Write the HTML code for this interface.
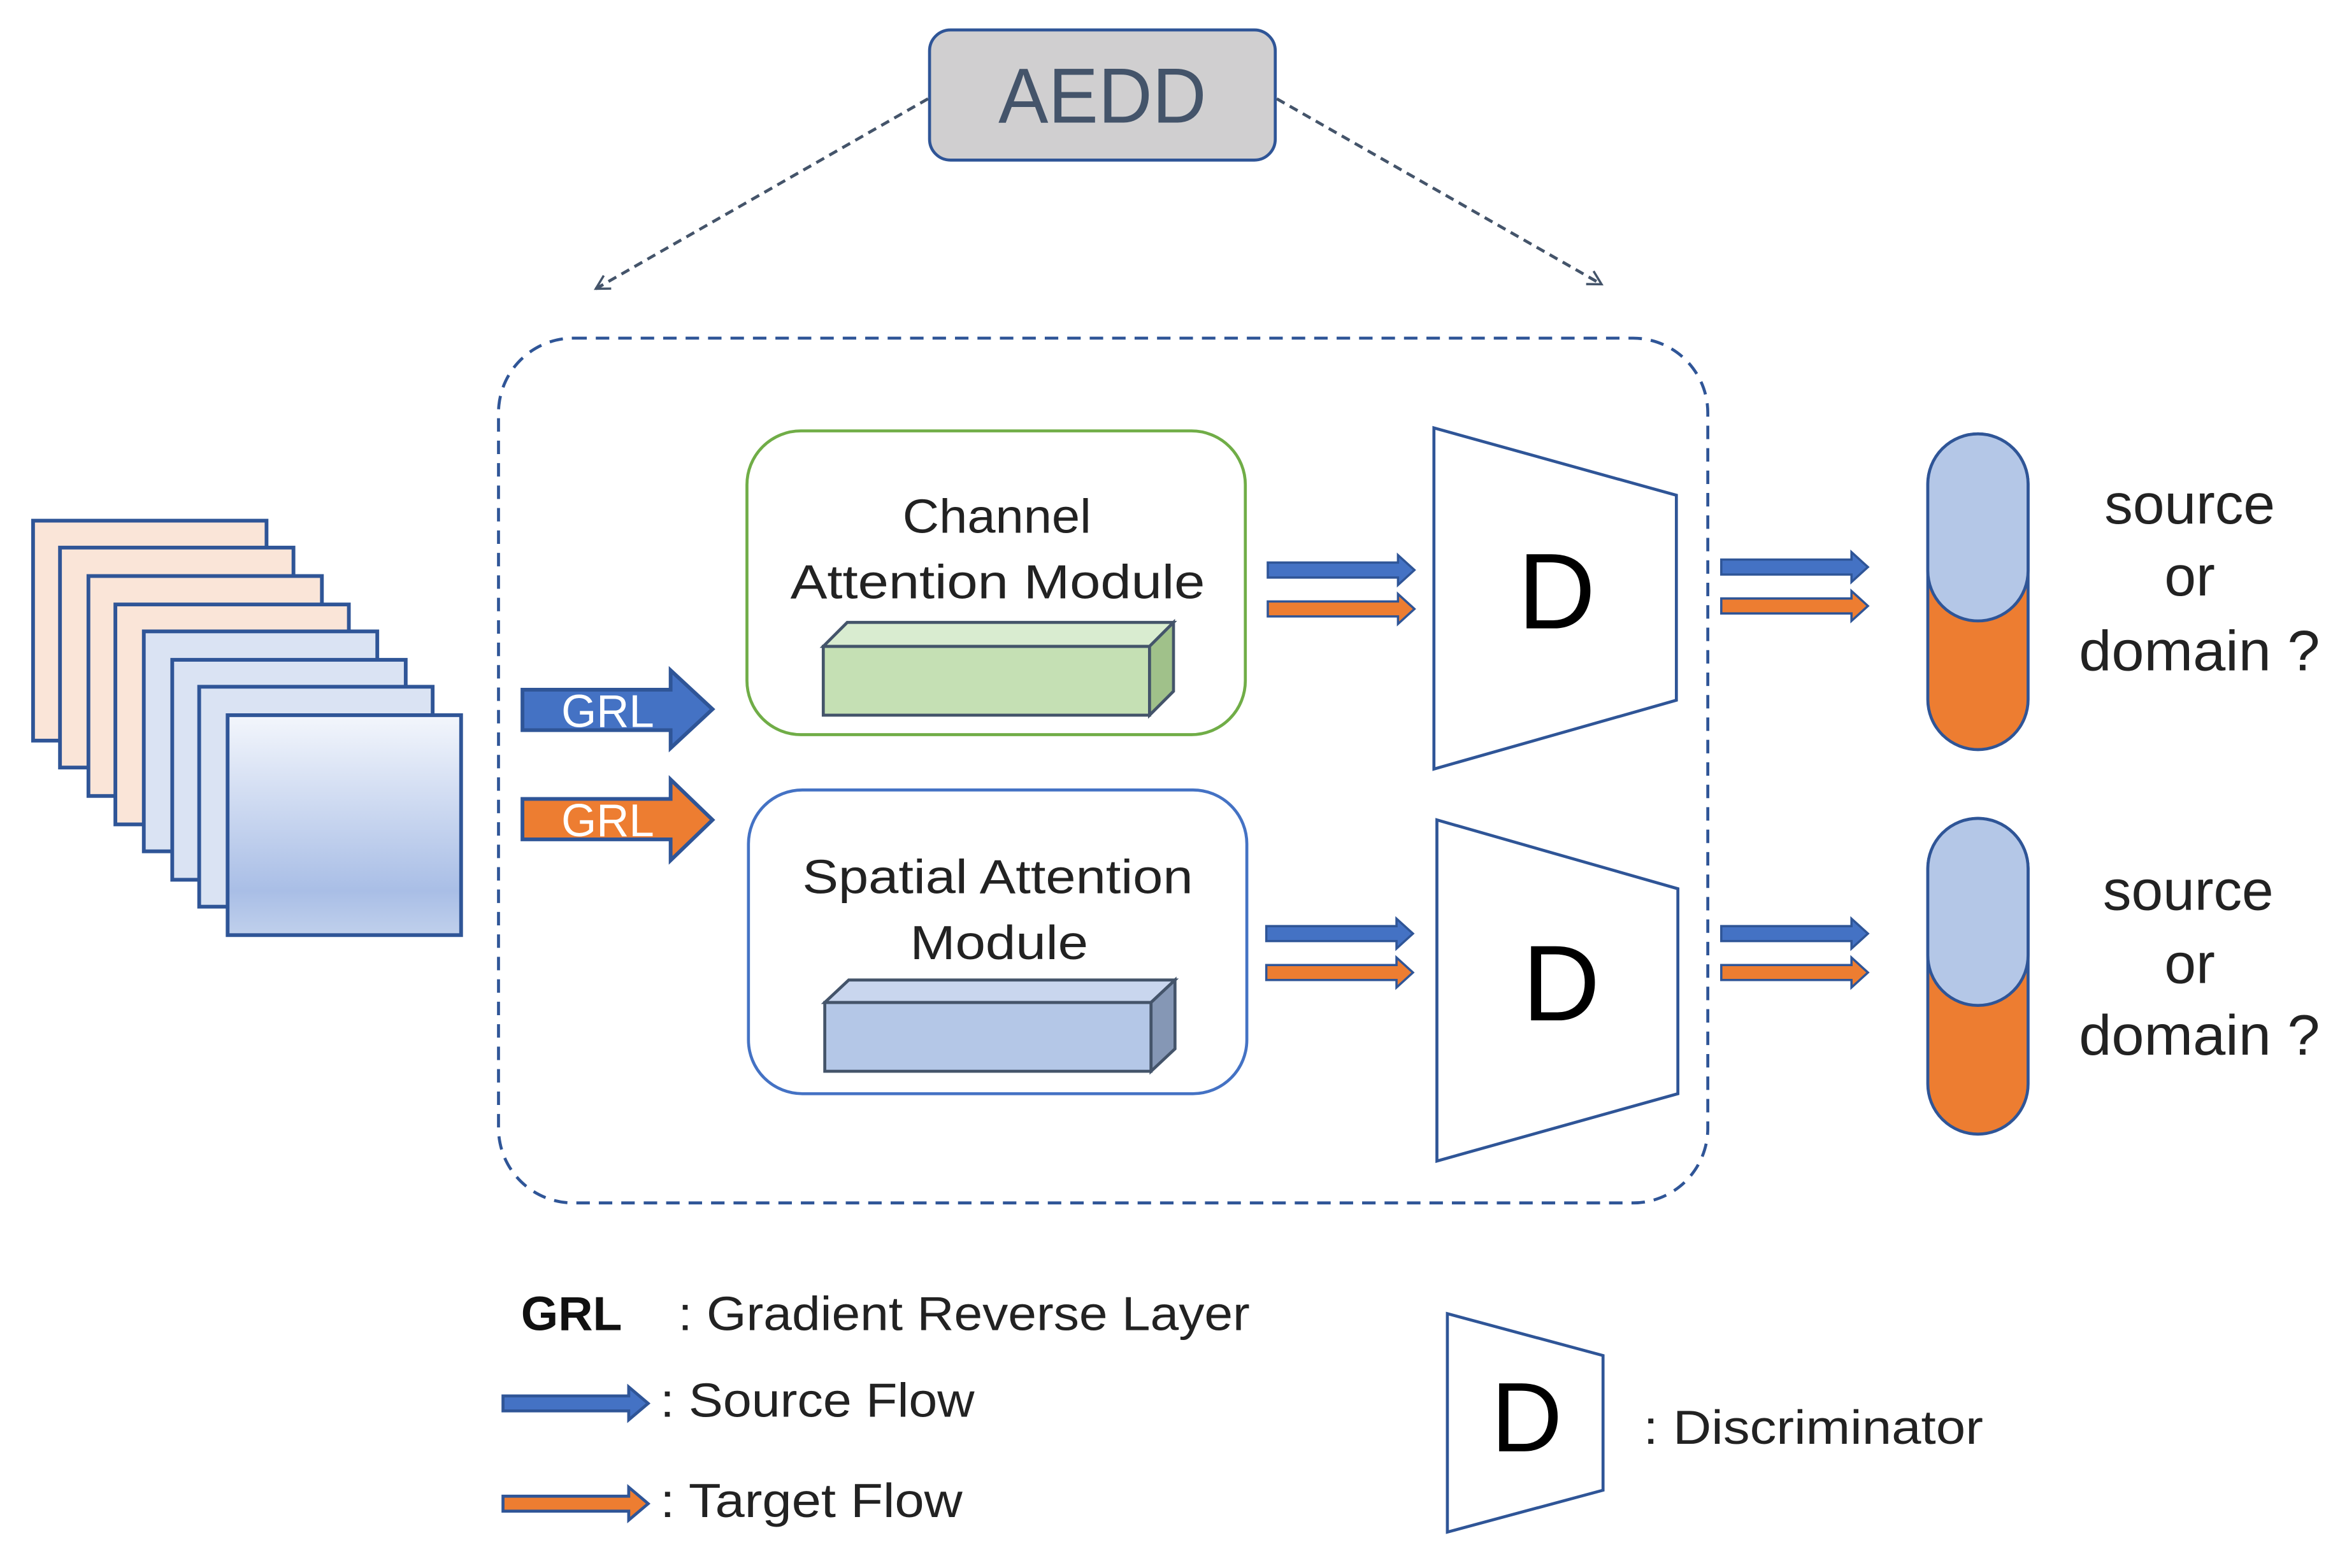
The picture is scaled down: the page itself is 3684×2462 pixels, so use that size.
<!DOCTYPE html>
<html><head><meta charset="utf-8"><style>html,body{margin:0;padding:0;background:#fff;}svg{display:block}</style></head>
<body>
<svg width="3684" height="2462" viewBox="0 0 1568 1048" xmlns="http://www.w3.org/2000/svg" font-family="Liberation Sans, DejaVu Sans, sans-serif">
<defs>
<linearGradient id="g" x1="0" y1="0" x2="0" y2="1">
<stop offset="0" stop-color="#f3f6fc"/><stop offset="0.8" stop-color="#a9bee6"/><stop offset="1" stop-color="#c0d0ec"/>
</linearGradient>
<marker id="ah" markerWidth="12" markerHeight="12" refX="10" refY="6" orient="auto" markerUnits="userSpaceOnUse">
<path d="M1,1 L10,6 L1,11" fill="none" stroke="#44546a" stroke-width="1.5"/>
</marker>
</defs>
<rect x="621" y="20" width="231" height="87" rx="14" fill="#d0cfd0" stroke="#2f5597" stroke-width="2"/>
<text x="667" y="82" font-size="52" fill="#44546a" textLength="139" lengthAdjust="spacingAndGlyphs">AEDD</text>
<line x1="620" y1="66" x2="398" y2="193" stroke="#44546a" stroke-width="2" stroke-dasharray="6,4" marker-end="url(#ah)"/>
<line x1="853" y1="66" x2="1070" y2="190" stroke="#44546a" stroke-width="2" stroke-dasharray="6,4" marker-end="url(#ah)"/>
<rect x="333" y="226" width="808" height="578" rx="50" fill="none" stroke="#2f5597" stroke-width="2" stroke-dasharray="9,6"/>
<g stroke="#2f5597" stroke-width="2.5">
<rect x="22" y="348" width="156" height="147" fill="#fae5d8"/>
<rect x="40" y="366" width="156" height="147" fill="#fae5d8"/>
<rect x="59" y="385" width="156" height="147" fill="#fae5d8"/>
<rect x="77" y="404" width="156" height="147" fill="#fae5d8"/>
<rect x="96" y="422" width="156" height="147" fill="#dae3f3"/>
<rect x="115" y="441" width="156" height="147" fill="#dae3f3"/>
<rect x="133" y="459" width="156" height="147" fill="#dae3f3"/>
<rect x="152" y="478" width="156" height="147" fill="url(#g)"/>
</g>
<path d="M349,461 L448,461 L448,448 L476,474 L448,500 L448,488 L349,488 Z" fill="#4472c4" stroke="#2f5597" stroke-width="2.5"/>
<text x="375" y="486" font-size="31" fill="#fff" textLength="62" lengthAdjust="spacingAndGlyphs">GRL</text>
<path d="M349,534 L448,534 L448,521 L476,548 L448,575 L448,561 L349,561 Z" fill="#ed7d31" stroke="#2f5597" stroke-width="2.5"/>
<text x="375" y="559" font-size="31" fill="#fff" textLength="62" lengthAdjust="spacingAndGlyphs">GRL</text>
<rect x="499" y="288" width="333" height="203" rx="36" fill="#fff" stroke="#70ad47" stroke-width="2"/>
<text x="603" y="356" font-size="32" fill="#222" textLength="126" lengthAdjust="spacingAndGlyphs">Channel</text>
<text x="528" y="400" font-size="32" fill="#222" textLength="277" lengthAdjust="spacingAndGlyphs">Attention Module</text>
<g stroke="#44546a" stroke-width="2">
<rect x="550" y="432" width="218" height="46" fill="#c5e0b4"/>
<path d="M550,432 L566,416 L784,416 L768,432 Z" fill="#d9ecd0"/>
<path d="M768,432 L784,416 L784,462 L768,478 Z" fill="#a0c18a"/>
</g>
<rect x="500" y="528" width="333" height="203" rx="36" fill="#fff" stroke="#4472c4" stroke-width="2"/>
<text x="536" y="597" font-size="32" fill="#222" textLength="261" lengthAdjust="spacingAndGlyphs">Spatial Attention</text>
<text x="608" y="641" font-size="32" fill="#222" textLength="119" lengthAdjust="spacingAndGlyphs">Module</text>
<g stroke="#44546a" stroke-width="2">
<rect x="551" y="670" width="218" height="46" fill="#b4c7e7"/>
<path d="M551,670 L567,655 L785,655 L769,670 Z" fill="#c9d6ee"/>
<path d="M769,670 L785,655 L785,701 L769,716 Z" fill="#8597b5"/>
</g>
<g stroke="#2f5597" stroke-width="1.5">
<path d="M847,376 L934,376 L934,371 L945,381 L934,391 L934,386 L847,386 Z" fill="#4472c4"/>
<path d="M847,402 L934,402 L934,397 L945,407 L934,417 L934,412 L847,412 Z" fill="#ed7d31"/>
<path d="M846,619 L933,619 L933,614 L944,624 L933,634 L933,629 L846,629 Z" fill="#4472c4"/>
<path d="M846,645 L933,645 L933,640 L944,650 L933,660 L933,655 L846,655 Z" fill="#ed7d31"/>
<path d="M1150,374 L1237,374 L1237,369 L1248,379 L1237,389 L1237,384 L1150,384 Z" fill="#4472c4"/>
<path d="M1150,400 L1237,400 L1237,395 L1248,405 L1237,415 L1237,410 L1150,410 Z" fill="#ed7d31"/>
<path d="M1150,619 L1237,619 L1237,614 L1248,624 L1237,634 L1237,629 L1150,629 Z" fill="#4472c4"/>
<path d="M1150,645 L1237,645 L1237,640 L1248,650 L1237,660 L1237,655 L1150,655 Z" fill="#ed7d31"/>
</g>
<path d="M958,286 L1120,331 L1120,468 L958,514 Z" fill="#fff" stroke="#2f5597" stroke-width="2"/>
<text x="1040" y="420" font-size="72" fill="#000" text-anchor="middle">D</text>
<path d="M960,548 L1121,594 L1121,731 L960,776 Z" fill="#fff" stroke="#2f5597" stroke-width="2"/>
<text x="1043" y="682" font-size="72" fill="#000" text-anchor="middle">D</text>
<g stroke="#2f5597" stroke-width="2">
<rect x="1288" y="290" width="67" height="211" rx="33.5" fill="#ed7d31"/>
<rect x="1288" y="290" width="67" height="125" rx="33.5" fill="#b4c7e7"/>
<rect x="1288" y="547" width="67" height="211" rx="33.5" fill="#ed7d31"/>
<rect x="1288" y="547" width="67" height="125" rx="33.5" fill="#b4c7e7"/>
</g>
<g font-size="38" fill="#222">
<text x="1406" y="350" textLength="114" lengthAdjust="spacingAndGlyphs">source</text><text x="1463" y="398" text-anchor="middle">or</text><text x="1389" y="448" textLength="161" lengthAdjust="spacingAndGlyphs">domain ?</text>
<text x="1405" y="608" textLength="114" lengthAdjust="spacingAndGlyphs">source</text><text x="1463" y="657" text-anchor="middle">or</text><text x="1389" y="705" textLength="161" lengthAdjust="spacingAndGlyphs">domain ?</text>
</g>
<text x="348" y="889" font-size="32" font-weight="bold" fill="#111">GRL</text>
<text x="453" y="889" font-size="32" fill="#222" textLength="382" lengthAdjust="spacingAndGlyphs">: Gradient Reverse Layer</text>
<path d="M336,933 L420,933 L420,927 L433,938 L420,949 L420,943 L336,943 Z" fill="#4472c4" stroke="#2f5597" stroke-width="2"/>
<text x="441" y="947" font-size="32" fill="#222" textLength="210" lengthAdjust="spacingAndGlyphs">: Source Flow</text>
<path d="M336,1000 L420,1000 L420,994 L433,1005 L420,1016 L420,1010 L336,1010 Z" fill="#ed7d31" stroke="#2f5597" stroke-width="2"/>
<text x="441" y="1014" font-size="32" fill="#222" textLength="202" lengthAdjust="spacingAndGlyphs">: Target Flow</text>
<path d="M967,878 L1071,906 L1071,996 L967,1024 Z" fill="#fff" stroke="#2f5597" stroke-width="2"/>
<text x="1020" y="970" font-size="66" fill="#000" text-anchor="middle">D</text>
<text x="1098" y="965" font-size="32" fill="#222" textLength="227" lengthAdjust="spacingAndGlyphs">: Discriminator</text>
</svg>
</body></html>
